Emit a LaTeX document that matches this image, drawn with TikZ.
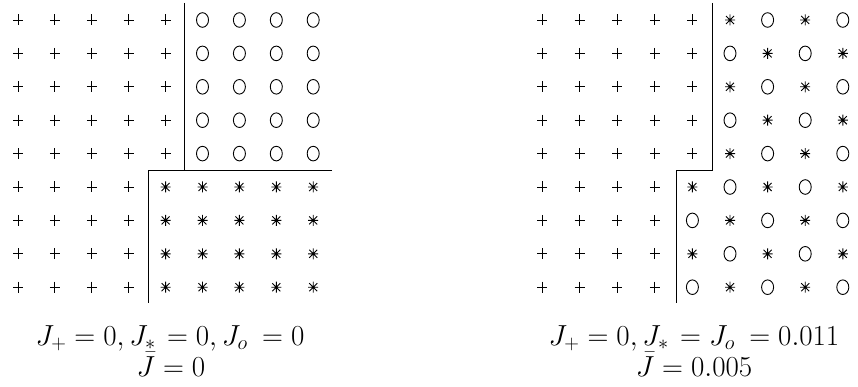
\RequirePackage{fix-cm}
\documentclass[tikz,border=0pt]{standalone}
\usepackage{tikz}
\usetikzlibrary{positioning}

\tikzset{
    pics/plusmark/.style={code={\draw[mk] (-5,0) -- (5,0) (0,-5.5) -- (0,5.5);}},
    pics/ringmark/.style={code={\draw[mk] (0,0) ellipse [x radius=6, y radius=7.3];}},
    pics/starmark/.style={code={\draw[mk] (-5,0) -- (5,0) (0,-5.5) -- (0,5.5)
        (-4,-4) -- (4,4) (-4,4) -- (4,-4);}},
    mk/.style={line width=0.9pt, black},
    border/.style={line width=1pt, black},
    caption/.style={anchor=base, inner sep=0pt, font=\fontsize{29}{33}\selectfont}
}

\begin{document}
\begin{tikzpicture}[x=1pt, y=-1pt]
\useasboundingbox (0,0) rectangle (858,387);

% Left grid: two clean blocks
\foreach \r in {1,...,9}{
    \foreach \c in {1,...,9}{
        \pgfmathtruncatemacro{\edgecol}{\r<6 ? 5 : 4}
        \pgfmathsetmacro{\xx}{18+36.9*(\c-1)}
        \pgfmathsetmacro{\yy}{20+33.4*(\r-1)}
        \ifnum\c>\edgecol
            \ifnum\r<6
                \pic at (\xx,\yy) {ringmark};
            \else
                \pic at (\xx,\yy) {starmark};
            \fi
        \else
            \pic at (\xx,\yy) {plusmark};
        \fi
    }
}

% Right grid: mixed block
\foreach \r in {1,...,9}{
    \foreach \c in {1,...,9}{
        \pgfmathtruncatemacro{\edgecol}{\r<6 ? 5 : 4}
        \pgfmathtruncatemacro{\parity}{mod(\r+\c,2)}
        \pgfmathsetmacro{\xx}{542+37.6*(\c-1)}
        \pgfmathsetmacro{\yy}{20+33.4*(\r-1)}
        \ifnum\c>\edgecol
            \ifnum\parity=1
                \pic at (\xx,\yy) {starmark};
            \else
                \pic at (\xx,\yy) {ringmark};
            \fi
        \else
            \pic at (\xx,\yy) {plusmark};
        \fi
    }
}

% Borders
\coordinate (lt) at (184.5,3);
\coordinate (lk) at (184.5,171);
\coordinate (lj) at (148,171);
\coordinate (lb) at (148,303);
\coordinate (le) at (332,171);
\draw[border] (lt) -- (lk);
\draw[border] (le) -- (lj) -- (lb);

\coordinate (rt) at (712.5,3);
\coordinate (rk) at (712.5,171);
\coordinate (rj) at (676,171);
\coordinate (rb) at (676,303);
\draw[border] (rt) -- (rk) -- (rj) -- (rb);

% Captions
\node[caption] (lcap) at (170,345) {$J_+=0, J_*\mkern2mu=0, J_o\mkern4mu=0$};
\node[caption] (lbar) at (171,376) {$\bar{J}=0$};
\node[caption] (rcap) at (694,345) {$J_+=0, J_*\mkern2mu=J_o\mkern4mu=0.011$};
\node[caption] (rbar) at (694,376) {$\bar{J}=0.005$};

\end{tikzpicture}
\end{document}
